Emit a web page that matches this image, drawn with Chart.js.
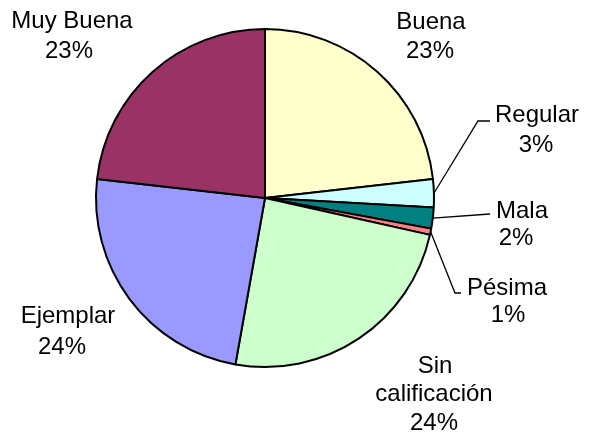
<!DOCTYPE html>
<html>
<head>
<meta charset="utf-8">
<script src="https://cdn.jsdelivr.net/npm/chart.js@4"></script>
<style>
html,body{margin:0;padding:0;background:#fff;}
#wrap{position:relative;width:591px;height:437px;}
</style>
</head>
<body>
<div id="wrap"><canvas id="c" width="591" height="437"></canvas></div>
<script>
const categories = ["Buena", "Regular", "Mala", "Pésima", "Sin calificación", "Ejemplar", "Muy Buena"];
const values = [23.2, 2.7, 2.0, 0.6, 24.3, 24.0, 23.2];
const percentLabels = ["23%", "3%", "2%", "1%", "24%", "24%", "23%"];
const colors = ["#FFFFCC", "#CCFFFF", "#008080", "#FF8080", "#CCFFCC", "#9999FF", "#993366"];

// label layout: name line centers, percent line center, optional leader line
const labelLayout = [
  {name: [[431, 20]], pct: [430, 49]},
  {name: [[537, 113]], pct: [536, 143], leader: [[478, 121], [490, 121]]},
  {name: [[522, 209]], pct: [516, 236], leader: [[490, 214]]},
  {name: [[507, 286]], pct: [508, 313], leader: [[455, 293], [461, 293]]},
  {name: [[435, 364], [434, 392]], pct: [434, 421], split: true},
  {name: [[68, 314]], pct: [62, 345]},
  {name: [[72, 19]], pct: [69, 49]}
];

const labelPlugin = {
  id: 'labels',
  afterDraw(chart) {
    const ctx = chart.ctx;
    const meta = chart.getDatasetMeta(0);
    ctx.save();
    ctx.font = '24px "Liberation Sans", Arial, sans-serif';
    ctx.fillStyle = '#000';
    ctx.textAlign = 'center';
    ctx.textBaseline = 'alphabetic';
    labelLayout.forEach((L, i) => {
      const name = categories[i];
      const parts = L.split ? name.split(' ') : [name];
      parts.forEach((t, k) => ctx.fillText(t, L.name[k][0], L.name[k][1] + 8.5));
      ctx.fillText(percentLabels[i], L.pct[0], L.pct[1] + 8.5);
      if (L.leader) {
        const arc = meta.data[i];
        const mid = (arc.startAngle + arc.endAngle) / 2;
        const sx = arc.x + Math.cos(mid) * arc.outerRadius;
        const sy = arc.y + Math.sin(mid) * arc.outerRadius;
        ctx.beginPath();
        ctx.strokeStyle = '#000';
        ctx.lineWidth = 1.3;
        ctx.moveTo(sx, sy);
        L.leader.forEach(p => ctx.lineTo(p[0], p[1]));
        ctx.stroke();
      }
    });
    ctx.restore();
  }
};

new Chart(document.getElementById('c'), {
  type: 'pie',
  data: {
    labels: categories,
    datasets: [{
      data: values,
      backgroundColor: colors,
      borderColor: '#000',
      borderWidth: 2
    }]
  },
  options: {
    responsive: false,
    animation: false,
    layout: {padding: {left: 95, right: 156, top: 28, bottom: 69}},
    plugins: {legend: {display: false}, tooltip: {enabled: false}}
  },
  plugins: [labelPlugin]
});
</script>
</body>
</html>
